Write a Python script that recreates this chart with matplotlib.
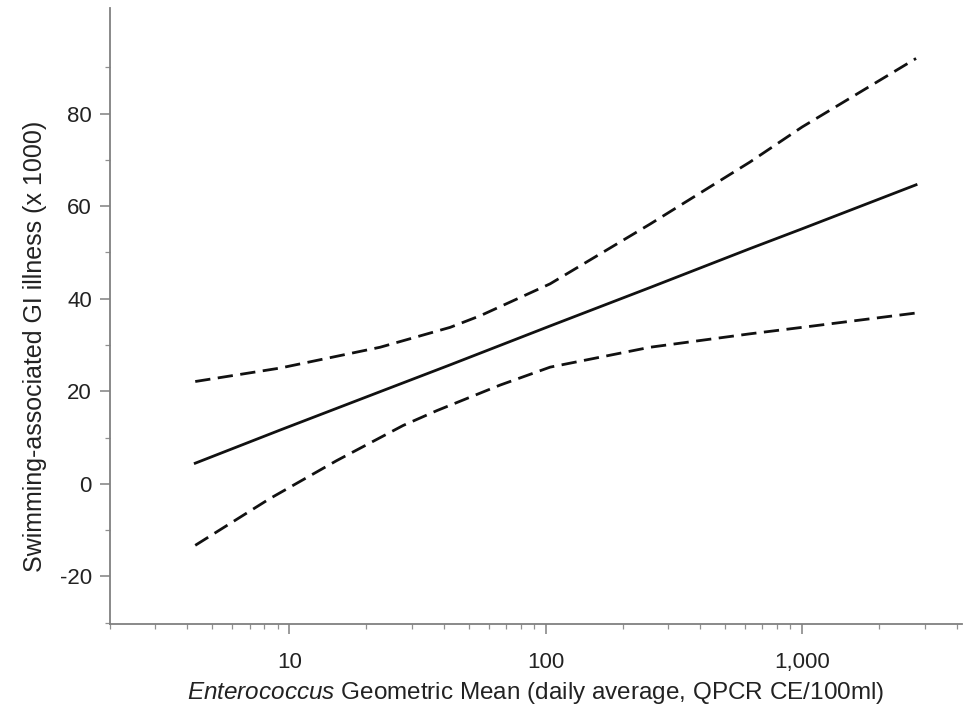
#!/usr/bin/env python3
import matplotlib
matplotlib.use("Agg")
import matplotlib.pyplot as plt
from matplotlib.ticker import FixedLocator, FixedFormatter, LogLocator, NullFormatter

# values
x_estimate = [4.3, 9.2, 22.6, 42.4, 104, 255, 625, 1000, 2780]
estimate = [4.45, 11.6, 19.9, 25.7, 34.1, 42.4, 50.8, 55.1, 64.6]

x_upper = [4.3, 9.2, 22.6, 42.4, 55.5, 104, 255, 625, 1000, 2780]
upper_ci = [22.1, 25.0, 29.5, 33.8, 36.3, 43.2, 56.1, 69.5, 77.1, 91.9]

x_lower = [4.3, 8.4, 15.3, 27.8, 37.6, 66.2, 104, 255, 625, 1000, 2780]
lower_ci = [-13.3, -3.2, 5.0, 12.6, 15.8, 21.3, 25.2, 29.5, 32.4, 33.8, 36.9]

x_ticks = [10, 100, 1000]
x_tick_labels = ["10", "100", "1,000"]
y_ticks = [-20, 0, 20, 40, 60, 80]
y_minor = [-30, -10, 10, 30, 50, 70, 90]

plt.rcParams["font.family"] = ["Liberation Sans", "DejaVu Sans"]
plt.rcParams["mathtext.fontset"] = "custom"
plt.rcParams["mathtext.it"] = "Liberation Sans:italic"
plt.rcParams["mathtext.rm"] = "Liberation Sans"
plt.rcParams["axes.unicode_minus"] = False

fig = plt.figure(figsize=(9.69, 7.08), dpi=100)
ax = fig.add_axes([0.1135, 0.1186, 0.8793, 0.8701])

line_color = "#111111"
ax.plot(x_estimate, estimate, color=line_color, lw=2.0)
ax.plot(x_upper, upper_ci, color=line_color, lw=2.0, dashes=(5.5, 2.7))
ax.plot(x_lower, lower_ci, color=line_color, lw=2.0, dashes=(5.5, 2.7))

ax.set_xscale("log")
ax.set_xlim(2, 4200)
ax.set_ylim(-30.3, 102.8)

ax.xaxis.set_major_locator(FixedLocator(x_ticks))
ax.xaxis.set_major_formatter(FixedFormatter(x_tick_labels))
ax.xaxis.set_minor_locator(LogLocator(base=10, subs=range(2, 10)))
ax.xaxis.set_minor_formatter(NullFormatter())
ax.yaxis.set_major_locator(FixedLocator(y_ticks))
ax.yaxis.set_minor_locator(FixedLocator(y_minor))

for side in ["top", "right"]:
    ax.spines[side].set_visible(False)
for side in ["left", "bottom"]:
    ax.spines[side].set_color("#808080")
    ax.spines[side].set_linewidth(1.3)

ax.tick_params(which="major", length=7, width=1.1, color="#808080",
               labelsize=16, labelcolor="#222222")
ax.tick_params(which="minor", length=3.5, width=0.9, color="#909090")
ax.tick_params(axis="x", which="major", pad=13)
ax.tick_params(axis="y", which="major", pad=6)

ax.set_xlabel(r"$\it{Enterococcus}$ Geometric Mean (daily average, QPCR CE/100ml)",
              fontsize=17.5, color="#222222", labelpad=5)
ax.set_ylabel("Swimming-associated GI illness (x 1000)",
              fontsize=18, color="#222222")
ax.yaxis.set_label_coords(-0.074, 0.451)

fig.savefig("out.png", dpi=100)
